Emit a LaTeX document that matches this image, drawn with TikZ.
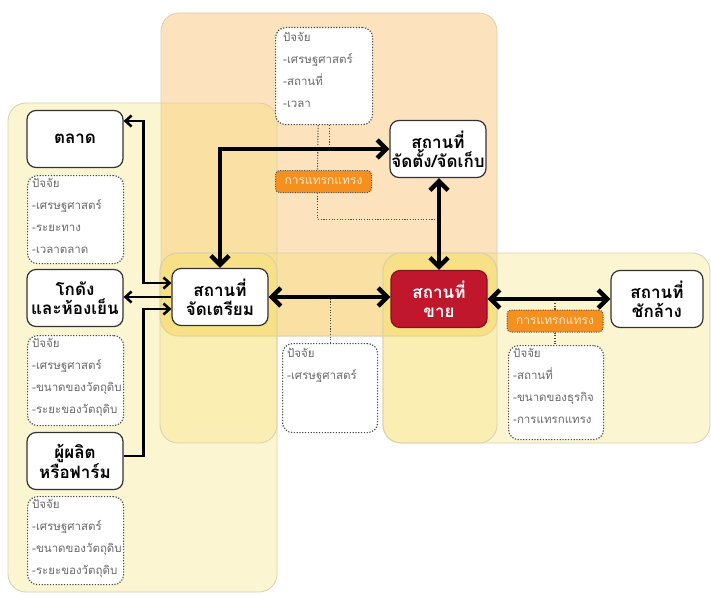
\documentclass[tikz,border=0pt]{standalone}
\usepackage{fontspec}
\setmainfont[Script=Thai]{Loma}
\usetikzlibrary{arrows.meta,calc}
\definecolor{peach}{HTML}{FCE2BD}
\definecolor{ylw}{HTML}{F6E06A}
\definecolor{regline}{HTML}{D9CFB0}
\definecolor{salered}{HTML}{C0172D}
\definecolor{orangelab}{HTML}{F5901E}
\definecolor{labtext}{HTML}{FDE8CC}
\definecolor{factext}{HTML}{6A6A6A}
\definecolor{dotc}{HTML}{4A4A4A}
\tikzset{
  TT/.tip={Straight Barb[length=6pt,width=11pt]},
  BB/.tip={Straight Barb[length=9pt,width=18pt]}
}
\begin{document}
\begin{tikzpicture}[x=1pt,y=-1pt,
  region/.style={rounded corners=18pt, fill=ylw, fill opacity=0.3, draw=regline, line width=0.8pt},
  mainbox/.style={draw=black!80, line width=1.2pt, rounded corners=9pt, fill=white,
    minimum width=96pt, minimum height=57pt, align=center, inner sep=1pt,
    font=\bfseries\fontsize{17}{19}\selectfont, text=black},
  factor/.style={draw=dotc, line width=1.2pt, dash pattern=on 1.2pt off 1.6pt,
    rounded corners=10pt, fill=white, anchor=north west, inner sep=0pt},
  factext/.style={anchor=north west, align=left, text=factext, inner sep=0pt,
    font=\fontsize{11.5}{22}\selectfont},
  lab/.style={fill=orangelab, draw=dotc, line width=1pt, dash pattern=on 1pt off 1.4pt,
    rounded corners=4pt, minimum width=96pt, minimum height=22pt, text=labtext,
    font=\fontsize{12}{14}\selectfont, inner sep=1pt},
  thickarr/.style={line width=4.5pt, draw=black, BB-BB},
  thinarr/.style={line width=2.6pt, draw=black},
  dotline/.style={draw=dotc, line width=1.1pt, dash pattern=on 1.1pt off 1.6pt}
]
\useasboundingbox (0,0) rectangle (711,594);
\fill[white] (0,0) rectangle (711,594);
% background regions
\draw[rounded corners=18pt, fill=peach, draw=regline, line width=0.8pt] (161,13) rectangle (497,336);
\draw[region] (8,103) rectangle (277,592);
\draw[region] (383,253) rectangle (710,443);
\draw[region] (160,253) rectangle (497,336);
\draw[region] (160,253) rectangle (277,443);
\draw[region] (383,253) rectangle (497,443);

% main nodes
\node[mainbox] (market) at (75,139) {ตลาด};
\node[mainbox] (cold) at (75,298) {โกดัง\\และห้องเย็น};
\node[mainbox] (farm) at (75,461) {ผู้ผลิต\\หรือฟาร์ม};
\node[mainbox] (prep) at (220,297) {สถานที่\\จัดเตรียม};
\node[mainbox] (store) at (438,149) {สถานที่\\จัดตั้ง/จัดเก็บ};
\node[mainbox, fill=salered, draw=salered!70!black, text=white] (sale) at (439,299) {สถานที่\\ขาย};
\node[mainbox, minimum width=92pt] (wash) at (657,299) {สถานที่\\ชักล้าง};

% factor boxes
\node[factor, minimum width=96pt, minimum height=88pt] (f1) at (27,175) {};
\node[factext] (f1t) at ([xshift=5pt,yshift=-3pt]f1.north west) {ปัจจัย\\-เศรษฐศาสตร์\\-ระยะทาง\\-เวลาตลาด};
\node[factor, minimum width=96pt, minimum height=90pt] (f2) at (27,335) {};
\node[factext] (f2t) at ([xshift=5pt,yshift=-3pt]f2.north west) {ปัจจัย\\-เศรษฐศาสตร์\\-ขนาดของวัตถุดิบ\\-ระยะของวัตถุดิบ};
\node[factor, minimum width=96pt, minimum height=88pt] (f3) at (27,496) {};
\node[factext] (f3t) at ([xshift=5pt,yshift=-3pt]f3.north west) {ปัจจัย\\-เศรษฐศาสตร์\\-ขนาดของวัตถุดิบ\\-ระยะของวัตถุดิบ};
\node[factor, minimum width=97pt, minimum height=97pt] (ft) at (275,27) {};
\node[factext] (ftt) at ([xshift=8pt,yshift=-5pt]ft.north west) {ปัจจัย\\-เศรษฐศาสตร์\\-สถานที่\\-เวลา};
\node[factor, minimum width=95pt, minimum height=89pt] (fm) at (282,343) {};
\node[factext] (fmt) at ([xshift=5pt,yshift=-5pt]fm.north west) {ปัจจัย\\-เศรษฐศาสตร์};
\node[factor, minimum width=95pt, minimum height=94pt] (fr) at (508,345) {};
\node[factext] (frt) at ([xshift=5pt,yshift=-3pt]fr.north west) {ปัจจัย\\-สถานที่\\-ขนาดของธุรกิจ\\-การแทรกแทรง};

% orange labels
\node[lab] (lab1) at (323.5,181.5) {การแทรกแทรง};
\node[lab] (lab2) at (555,321) {การแทรกแทรง};

% dotted connectors
\draw[dotline] ([xshift=-6pt]ft.south) -- ([xshift=-6pt]lab1.north);
\draw[dotline] ([xshift=5pt]ft.south) -- ([xshift=5pt]ft.south |- store.west);
\draw[dotline] ([xshift=-6pt]lab1.south) |- ($(store.south)!0.45!(sale.north)$);
\draw[dotline] (fm.north) -- (fm.north |- prep.east);
\draw[dotline] (lab2.north) -- (lab2.north |- sale.east);
\draw[dotline] (lab2.south) -- (lab2.south |- fr.north);

% thick arrows
\draw[thickarr] (prep.north) |- (store.west);
\draw[thickarr] (store.south -| sale.north) -- (sale.north);
\draw[thickarr] (prep.east) -- (sale.west |- prep.east);
\draw[thickarr] (sale.east) -- (wash.west |- sale.east);

% thin arrows
\draw[thinarr, TT-TT] ([yshift=18pt]market.east) -- ++(20,0) |- ([yshift=14pt]prep.west);
\draw[thinarr, -TT] (prep.west) -- (prep.west -| cold.east);
\draw[thinarr, -TT] ([yshift=5pt]farm.east) -- ++(20,0) |- ([yshift=-12pt]prep.west);
\end{tikzpicture}
\end{document}
